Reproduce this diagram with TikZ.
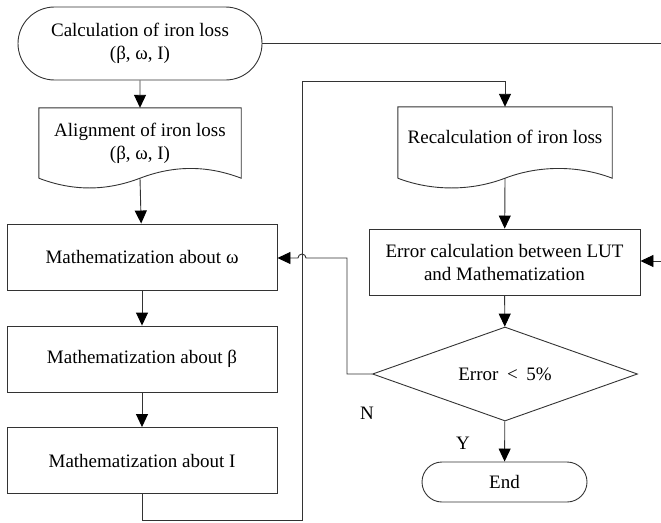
\documentclass[tikz,border=0pt]{standalone}
\usepackage{fontspec}
\setmainfont{Liberation Serif}
\usetikzlibrary{arrows.meta,shapes.geometric,shapes.misc}

\tikzset{
  line/.style={draw=black!80,line width=0.9pt},
  flow/.style={line,-{Triangle[length=13pt,width=12pt,color=black]}},
  terminal/.style={rounded rectangle,line,inner sep=0pt,align=center},
  process/.style={rectangle,line,inner sep=0pt,align=center,minimum width=270pt,minimum height=66pt},
  docbox/.style={rectangle,inner sep=0pt,align=center},
  decision/.style={diamond,line,inner sep=0pt,aspect=2.8,minimum width=265pt,minimum height=94pt}
}
% 文档框：三边直线，底边波浪
\newcommand{\docshape}[1]{%
  \draw[line] (#1.south west) -- (#1.north west) -- (#1.north east) -- (#1.south east)
    .. controls +(-34,-13) and +(34,-13) .. (#1.south)
    .. controls +(-34,13) and +(34,13) .. (#1.south west);}

\begin{document}
\begin{tikzpicture}[x=1pt,y=1pt,yscale=-1,font=\fontsize{19}{23}\selectfont]
\useasboundingbox (0,0) rectangle (661,522);
%左列
\node[terminal,minimum width=244pt,minimum height=73pt] (calc) at (140,43.5) {Calculation of iron loss\\(β, ω, I)};
\node[docbox,minimum width=202pt,minimum height=70pt] (align) at (140,143) {Alignment of iron loss\\(β, ω, I)};
\docshape{align}
\node[process] (mw) at (142,257) {Mathematization about ω};
\node[process] (mb) at (142,359) {Mathematization about β};
\node[process] (mi) at (142,460.5) {Mathematization about I};
%右列
\node[docbox,minimum width=214pt,minimum height=71pt,text depth=11pt] (recalc) at (505,142.5) {Recalculation of iron loss};
\docshape{recalc}
\node[process,minimum width=271pt] (err) at (504.5,262) {Error calculation between LUT\\and Mathematization};
\node[decision] (dec) at (505,374) {Error\hspace{0.45em}<\hspace{0.45em}5\%};
\node[terminal,minimum width=165pt,minimum height=40pt] (end) at (504.5,482) {End};
%Text
\node (nlab) at (367,413) {N};
\node (ylab) at (463,443) {Y};
%连线
\coordinate (lb) at (302,520);
\coordinate (lt) at (302,81);
\coordinate (nb) at (347,258);
\coordinate (tr) at (661,43.5);
\coordinate (rr) at (661,261);
\draw[flow] (calc) -- (align);
\draw[flow] (align.south) -- (mw);
\draw[flow] (mw) -- (mb);
\draw[flow] (mb) -- (mi);
\draw[flow] (mi.south) |- (lb) -- (lt) -| (recalc.north);
\draw[flow] (recalc.south) -- (err);
\draw[flow] (err) -- (dec);
\draw[flow] (dec) -- (end);
\draw[flow] (dec.west) -| (nb) -- (306,258) arc[start angle=0,end angle=-180,radius=4] -- (mw.east |- nb);%跨线
\draw[line] (calc.east) -- (tr);
\draw[flow] (rr) -- (err.east |- rr);
\end{tikzpicture}
\end{document}
